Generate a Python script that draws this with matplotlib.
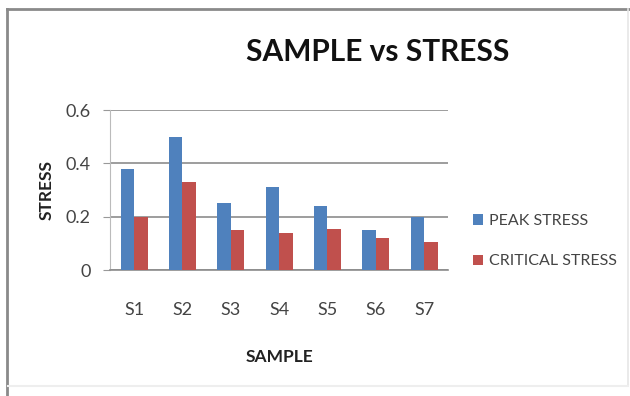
import numpy as np
import matplotlib.pyplot as plt
from matplotlib.lines import Line2D

samples = ["S1", "S2", "S3", "S4", "S5", "S6", "S7"]
peak_stress = [0.38, 0.50, 0.25, 0.31, 0.24, 0.15, 0.20]
critical_stress = [0.20, 0.33, 0.15, 0.14, 0.155, 0.12, 0.105]
y_ticks = [0, 0.2, 0.4, 0.6]
y_tick_labels = ["0", "0.2", "0.4", "0.6"]

plt.rcParams['font.family'] = ['Lato', 'DejaVu Sans']

fig = plt.figure(figsize=(6.3, 3.96), dpi=100)
ax = fig.add_axes([0.1746, 0.318, 0.537, 0.404])

x = np.arange(len(samples))
w = 0.28
ax.bar(x - w / 2, peak_stress, w, color='#4F81BD', label='PEAK STRESS', zorder=3)
ax.bar(x + w / 2, critical_stress, w, color='#C0504D', label='CRITICAL STRESS', zorder=3)

ax.set_xlim(-0.5, len(samples) - 0.5)
ax.set_ylim(0, 0.6)
ax.set_yticks(y_ticks)
ax.set_yticklabels(y_tick_labels, fontsize=13, color='#444444')
ax.set_xticks(x)
ax.set_xticklabels(samples, fontsize=13, color='#444444')
ax.tick_params(axis='x', length=0, pad=23)
ax.tick_params(axis='y', length=5, color='#999999', pad=9)
ax.grid(axis='y', color='#8c8c8c', linewidth=1.2, zorder=0)

for side in ['top', 'right']:
    ax.spines[side].set_visible(False)
ax.spines['left'].set_color('#bbbbbb')
ax.spines['bottom'].set_color('#8c8c8c')
ax.spines['bottom'].set_linewidth(1.2)

ax.set_xlabel('SAMPLE', fontsize=12.5, fontweight='bold', color='#222222', labelpad=22)
ax.set_ylabel('STRESS', fontsize=12.5, fontweight='bold', color='#222222', labelpad=8)

fig.text(0.599, 1 - 52 / 396, 'SAMPLE vs STRESS', fontsize=21.5, fontweight='bold',
         ha='center', va='center', color='#111111')

ax.legend(loc='center left', bbox_to_anchor=(1.074, 0.18), frameon=False,
          borderaxespad=0, borderpad=0,
          fontsize=11.5, handlelength=0.6, handleheight=0.6, handletextpad=0.35,
          labelspacing=1.65, labelcolor='#444444')

# outer chart frame: darker left/top edges, faint right/bottom edges
W, H = 630, 396
fig.add_artist(Line2D([7 / W, 7 / W], [0, 1 - 9 / H], transform=fig.transFigure,
                      color='#8a8a8a', linewidth=2))
fig.add_artist(Line2D([7 / W, 1], [1 - 9 / H, 1 - 9 / H], transform=fig.transFigure,
                      color='#8a8a8a', linewidth=2))
fig.add_artist(Line2D([628 / W, 628 / W], [1 - 386 / H, 1 - 9 / H], transform=fig.transFigure,
                      color='#e6e6e6', linewidth=1.2))
fig.add_artist(Line2D([8 / W, 628 / W], [1 - 386 / H, 1 - 386 / H], transform=fig.transFigure,
                      color='#eeeeee', linewidth=1.5))

fig.savefig('out.png', dpi=100)
